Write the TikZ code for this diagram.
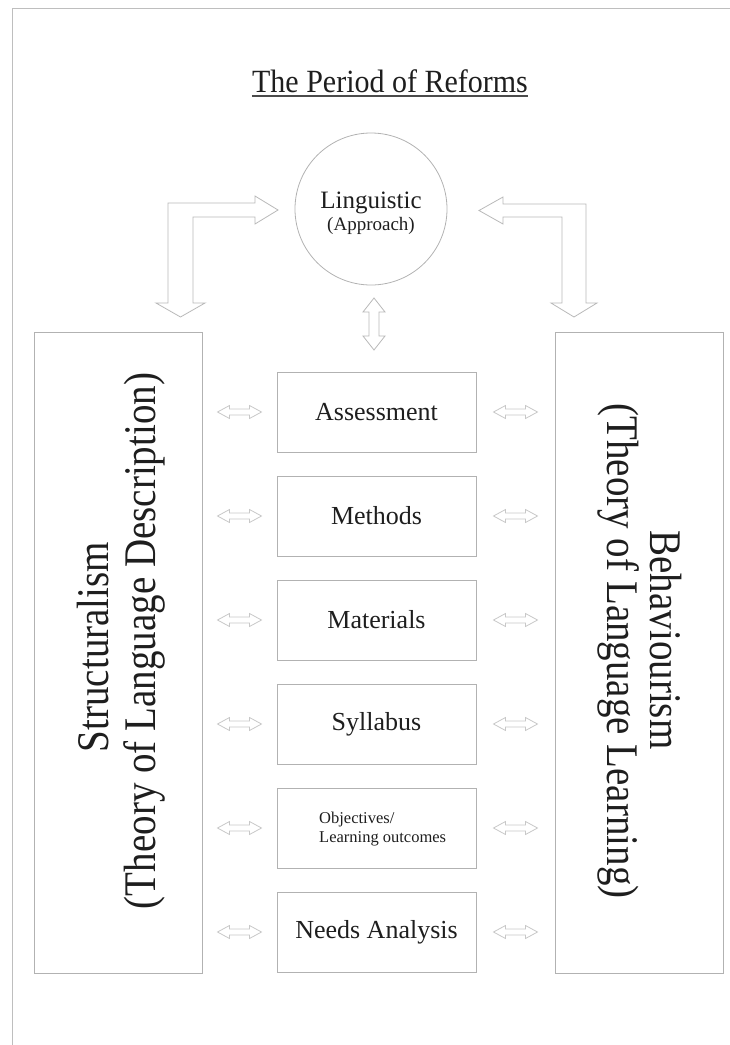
\documentclass[tikz,border=0pt]{standalone}
\usepackage{fontspec}
\setmainfont{Liberation Serif}
\usetikzlibrary{calc}
\definecolor{boxgray}{RGB}{178,178,178}
\definecolor{arrgray}{RGB}{185,185,185}
\definecolor{smallgray}{RGB}{200,200,200}
\definecolor{pagegray}{RGB}{190,190,190}
\definecolor{txt}{RGB}{30,30,30}
\tikzset{
  sidebox/.style={draw=boxgray, line width=0.9pt, rectangle, minimum width=168pt, minimum height=641pt, inner sep=0pt},
  midbox/.style={draw=boxgray, line width=0.9pt, rectangle, minimum width=199pt, minimum height=80pt, inner sep=0pt, text=txt, font=\fontsize{26}{30}\selectfont},
  blockarrow/.style={draw=arrgray, line width=0.8pt, fill=white, line join=miter},
  smallarrow/.style={draw=smallgray, line width=0.8pt, fill=white, line join=miter},
  sidetext/.style={inner sep=0pt, anchor=base, text=txt, font=\fontsize{39}{45}\selectfont},
  lbl/.style={inner sep=0pt, text=txt},
}
\begin{document}
\begin{tikzpicture}[x=1pt, y=-1pt]
\useasboundingbox (0,0) rectangle (730,1045);
% page border lines
\draw[pagegray, line width=0.9pt] (730,8) -- (12,8) -- (12,1045);

% title
\node[lbl, anchor=base, font=\fontsize{30}{34}\selectfont] (title) at (390,92) {\scalebox{1}[1.08]{The Period of Reforms}};
\draw[txt!80, line width=1.2pt] ($(title.base west)+(0,4)$) -- ($(title.base east)+(0,4)$);

% circle
\node[draw=boxgray, line width=0.8pt, circle, minimum size=152pt, inner sep=0pt] (C) at (371,209) {};
\node[lbl, anchor=base, font=\fontsize{25}{28}\selectfont] (ling) at (371,208) {Linguistic};
\node[lbl, anchor=base, font=\fontsize{19}{22}\selectfont] (appr) at (371,230) {(Approach)};

% side boxes
\node[sidebox] (L) at (118,652.5) {};
\node[sidebox] (R) at (639,652.5) {};
\node[sidetext, rotate=90] (ls1) at (108,647) {\scalebox{1}[1.16]{Structuralism}};
\node[sidetext, rotate=90] (ls2) at (155,641) {\scalebox{1}[1.16]{(Theory of Language Description)}};
\node[sidetext, rotate=-90] (rs1) at (650,640) {\scalebox{1}[1.16]{Behaviourism}};
\node[sidetext, rotate=-90] (rs2) at (607,651) {\scalebox{1}[1.16]{(Theory of Language Learning)}};

% middle boxes
\node[midbox] (A)  at (376.5,412) {Assessment};
\node[midbox] (Me) at (376.5,516) {Methods};
\node[midbox] (Ma) at (376.5,620) {Materials};
\node[midbox] (S)  at (376.5,724) {Syllabus};
\node[midbox] (O)  at (376.5,828) {};
\node[midbox] (N)  at (376.5,932) {Needs Analysis};
\node[lbl, anchor=base west, font=\fontsize{16.5}{19}\selectfont] (o1) at (319,823) {Objectives/};
\node[lbl, anchor=base west, font=\fontsize{16.5}{19}\selectfont] (o2) at (319,842) {Learning outcomes};

% small double arrows
\foreach \n in {A,Me,Ma,S,O,N}{
  \coordinate (la\n) at ($(L.east |- \n)!0.5!(\n.west)$);
  \coordinate (ra\n) at ($(\n.east)!0.5!(R.west |- \n)$);
  \foreach \c in {la\n,ra\n}{
    \draw[smallarrow] (\c) ++(-22,0) -- ++(12,-6.5) -- ++(0,3.5) -- ++(20,0) -- ++(0,-3.5)
      -- ++(12,6.5) -- ++(-12,6.5) -- ++(0,-3.5) -- ++(-20,0) -- ++(0,3.5) -- cycle;
  }
}

% vertical double arrow below circle
\coordinate (vtop) at (374,298);
\draw[blockarrow] (vtop) -- ++(11,14) -- ++(-6,0) -- ++(0,24) -- ++(6,0) -- ++(-11,14)
  -- ++(-11,-14) -- ++(6,0) -- ++(0,-24) -- ++(-6,0) -- cycle;

% left L-shaped arrow
\coordinate (ltip) at (278,210);
\draw[blockarrow] (168,203) -- (255,203) -- (255,196) -- (ltip) -- (255,224) -- (255,217)
  -- (193,217) -- (193,303) -- (205,303) -- (180.5,317) -- (156,303) -- (168,303) -- cycle;

% right L-shaped arrow
\coordinate (rtip) at (479,210.5);
\draw[blockarrow] (586,204) -- (503,204) -- (503,197) -- (rtip) -- (503,224) -- (503,217)
  -- (562,217) -- (562,303) -- (551,303) -- (574,317) -- (597,303) -- (586,303) -- cycle;
\end{tikzpicture}
\end{document}
